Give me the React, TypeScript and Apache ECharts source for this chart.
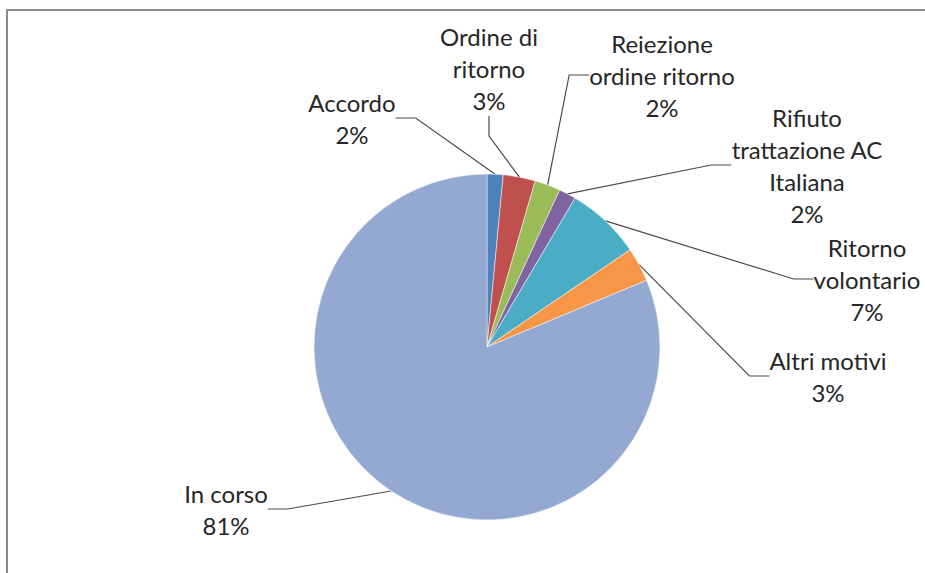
import React, { useEffect, useRef } from "react";
import * as echarts from "echarts";

const categories = [
  "Accordo",
  "Ordine di\nritorno",
  "Reiezione\nordine ritorno",
  "Rifiuto\ntrattazione AC\nItaliana",
  "Ritorno\nvolontario",
  "Altri motivi",
  "In corso",
];
const values = [1.5, 3.0, 2.4, 1.6, 7.0, 3.2, 81.3];
const colors = ["#4F81BD", "#C0504D", "#9BBB59", "#8064A2", "#4BACC6", "#F79646", "#93A9D2"];
// label block centres (x, y) in chart pixels
const labelPos: [number, number][] = [
  [352, 118],
  [489, 68],
  [662, 75],
  [807, 165],
  [867, 279],
  [828, 376],
  [226, 509],
];

export default function App() {
  const ref = useRef<HTMLDivElement>(null);
  useEffect(() => {
    document.body.style.margin = "0";
    const chart = echarts.init(ref.current!, undefined, { renderer: "svg" });
    chart.setOption({
      animation: false,
      backgroundColor: "#ffffff",
      graphic: [
        {
          type: "rect",
          shape: { x: 7, y: 10, width: 940, height: 600 },
          style: { fill: "none", stroke: "#8a8a8a", lineWidth: 2 },
          silent: true,
          z: -1,
        },
      ],
      series: [
        {
          type: "pie",
          center: [487, 347],
          radius: 173,
          startAngle: 90,
          clockwise: true,
          avoidLabelOverlap: false,
          data: categories.map((c, i) => ({
            name: c,
            value: values[i],
            itemStyle: { color: colors[i] },
          })),
          itemStyle: { borderColor: "#ffffff", borderWidth: 0.5 },
          label: {
            show: true,
            formatter: (p: any) => `${p.name}\n${Math.round(p.percent)}%`,
            fontFamily: "Lato, 'Noto Sans', sans-serif",
            fontSize: 24,
            lineHeight: 32,
            color: "#262626",
            align: "center",
          },
          labelLine: {
            show: true,
            length: 20,
            length2: 20,
            lineStyle: { color: "#4a4a4a", width: 1.2 },
          },
          labelLayout: (params: any) => {
            const p = labelPos[params.dataIndex];
            return {
              x: p[0],
              y: p[1],
              align: "center",
              verticalAlign: "middle",
            };
          },
        },
      ],
    });
    return () => chart.dispose();
  }, []);
  return <div ref={ref} style={{ width: 925, height: 573 }} />;
}
